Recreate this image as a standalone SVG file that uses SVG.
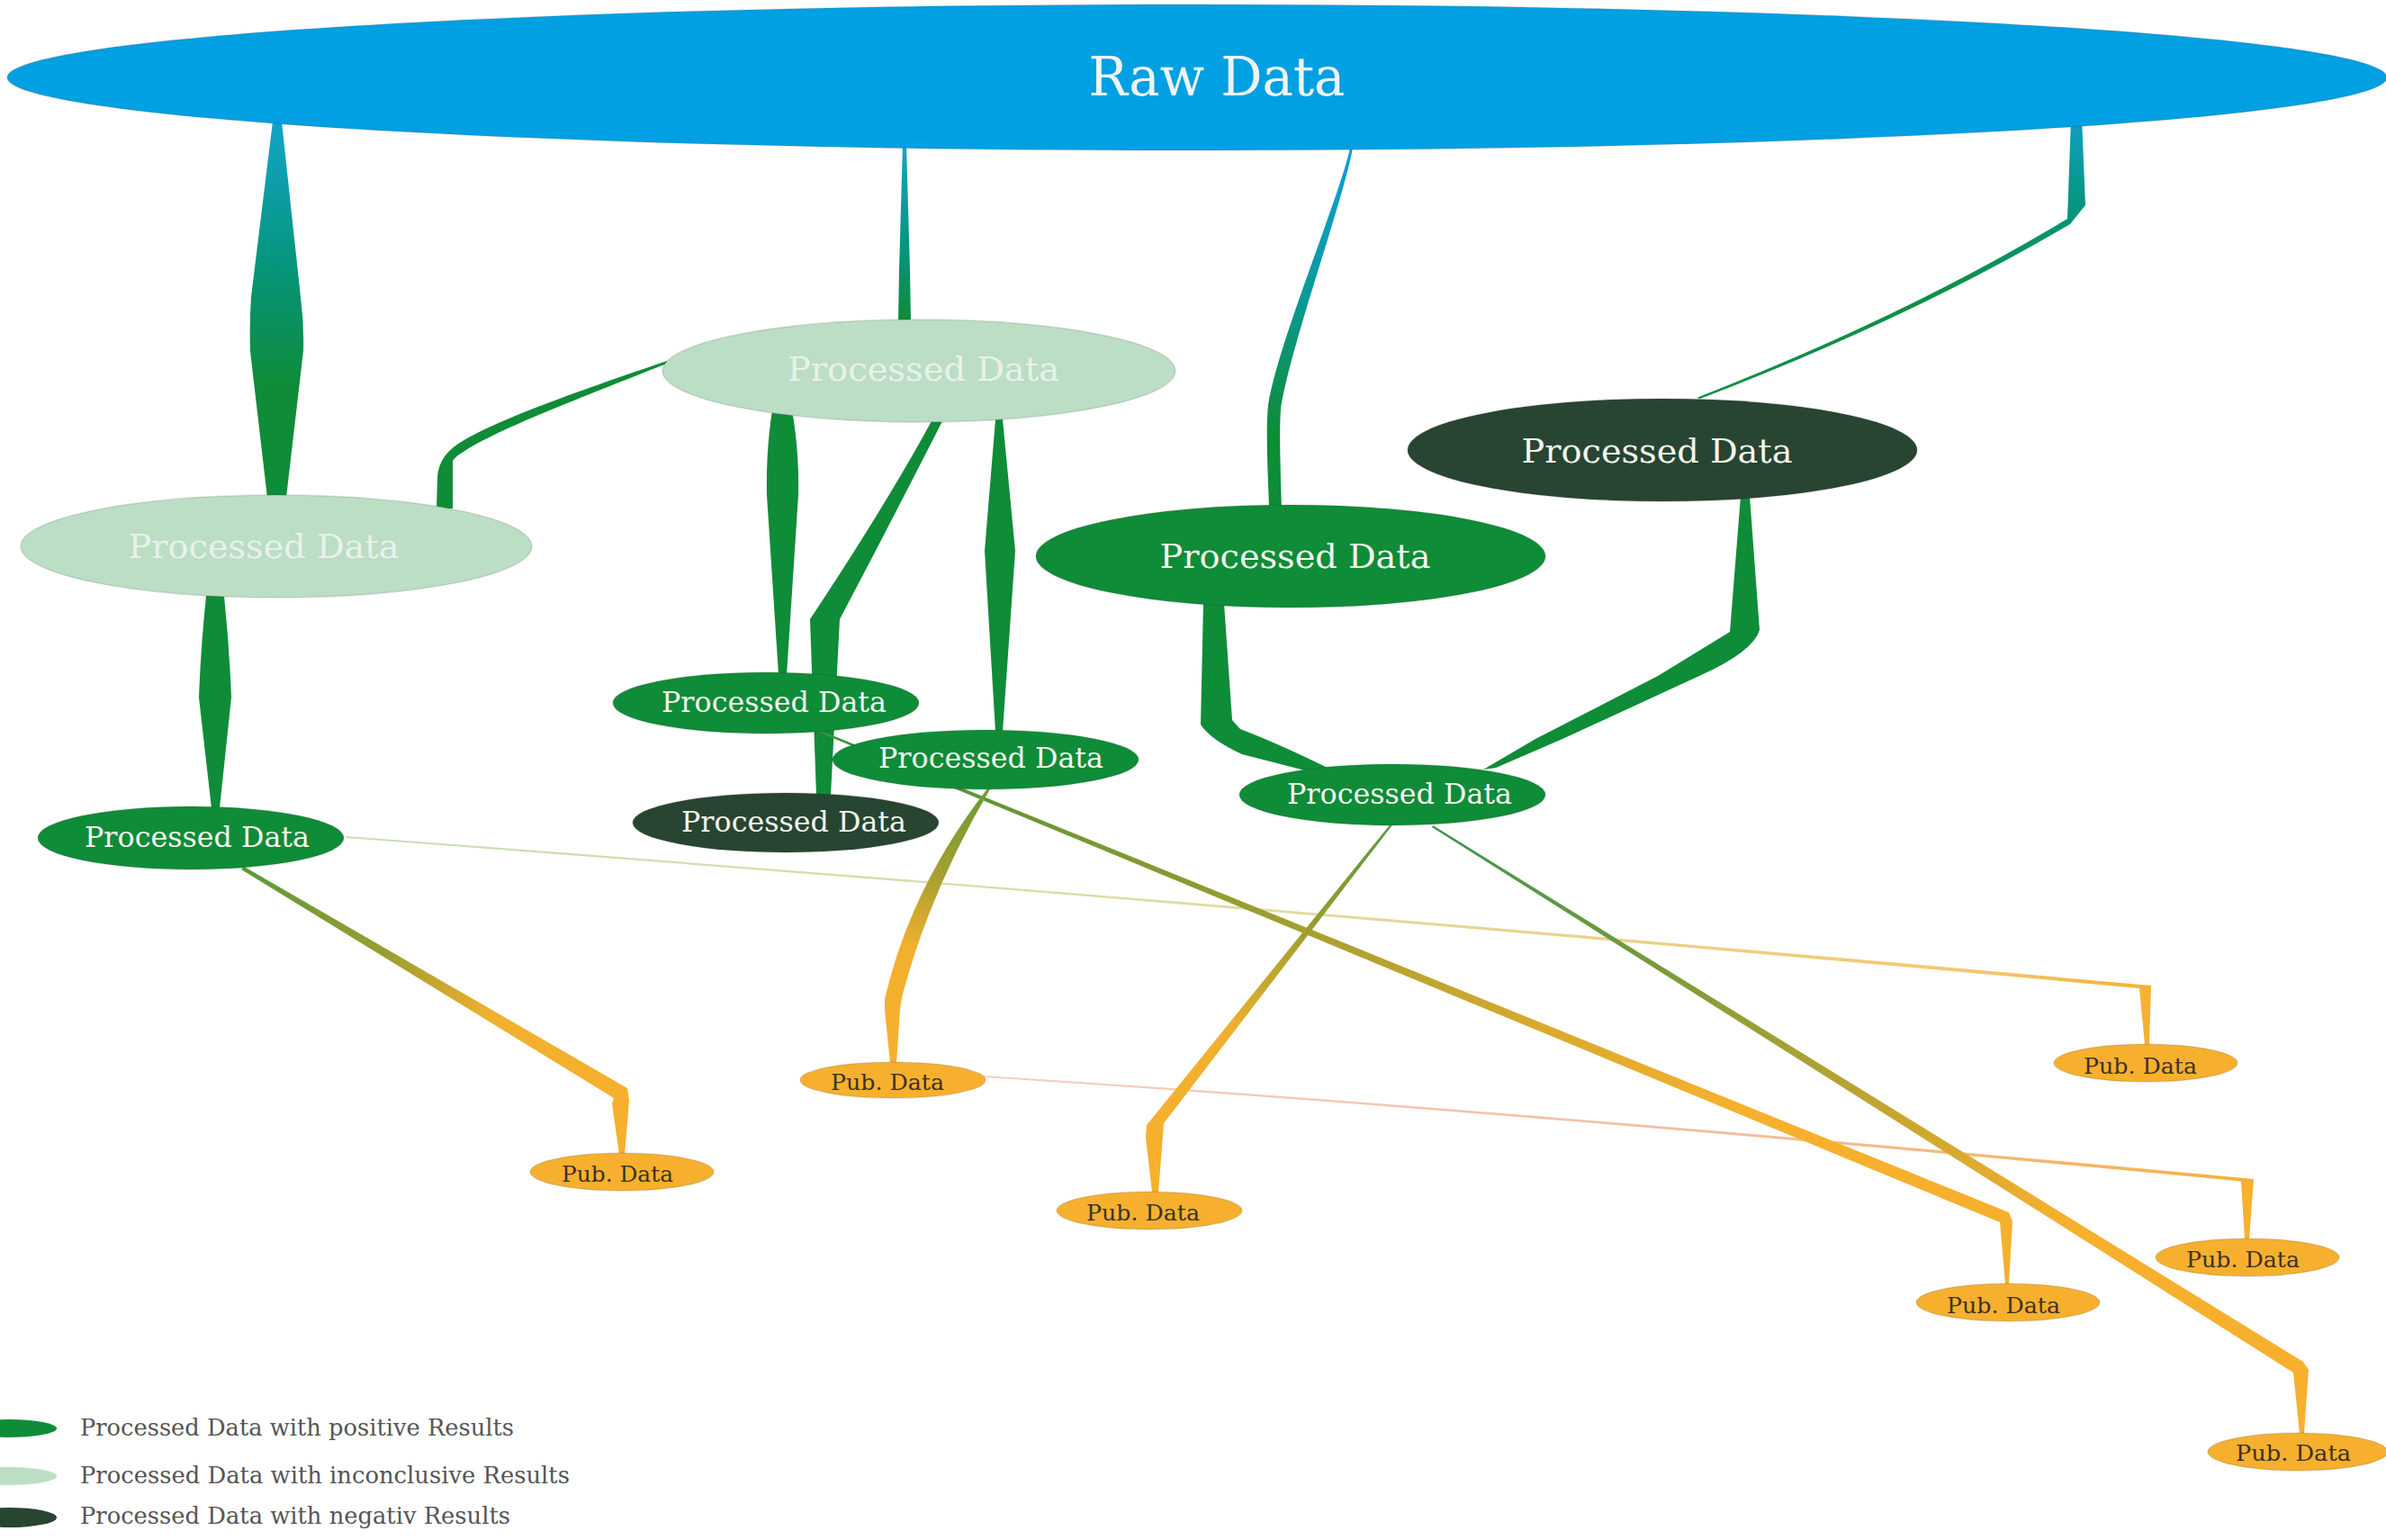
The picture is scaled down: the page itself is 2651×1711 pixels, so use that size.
<svg xmlns="http://www.w3.org/2000/svg" width="2651" height="1711" viewBox="0 0 2651 1711">
<style>
.t{font-family:"DejaVu Serif","Liberation Serif",serif;text-anchor:middle}
.pos{fill:#0f8c37}
.inc{fill:#bbdec5}
.neg{fill:#284531}
.pub{fill:#f7b02e}
.raw{fill:#00a0e2}
.edge{stroke:#333;stroke-opacity:.14;stroke-width:1.5}
.lt{fill:#f3f5f0;font-size:37px}
.st{fill:#f3f5f0;font-size:32px}
.it{fill:#e9f1eb}
.pt{fill:#3b3222;font-size:24px}
.lg{fill:#555;font-size:26px;text-anchor:start}
.g{fill:#0f8c37}
</style>
<defs>
<linearGradient id="gR1" gradientUnits="userSpaceOnUse" x1="0" y1="137" x2="0" y2="430"><stop offset="0" stop-color="#12a4c8"/><stop offset="0.55" stop-color="#05957a"/><stop offset="1" stop-color="#0f8c37"/></linearGradient>
<linearGradient id="gR2" gradientUnits="userSpaceOnUse" x1="0" y1="162" x2="0" y2="358"><stop offset="0" stop-color="#12a4c8"/><stop offset="0.6" stop-color="#05957a"/><stop offset="1" stop-color="#0f8c37"/></linearGradient>
<linearGradient id="gR3" gradientUnits="userSpaceOnUse" x1="0" y1="166" x2="0" y2="480"><stop offset="0" stop-color="#0fa0dc"/><stop offset="0.5" stop-color="#0a9a9a"/><stop offset="1" stop-color="#0f8c37"/></linearGradient>
<linearGradient id="gR4" gradientUnits="userSpaceOnUse" x1="0" y1="133" x2="0" y2="320"><stop offset="0" stop-color="#10a0c0"/><stop offset="0.55" stop-color="#05957a"/><stop offset="1" stop-color="#0f8f48"/></linearGradient>
<linearGradient id="gP1" gradientUnits="userSpaceOnUse" x1="269" y1="965" x2="691" y2="1282"><stop offset="0" stop-color="#5a9a3c"/><stop offset="0.35" stop-color="#9a9e30"/><stop offset="0.6" stop-color="#f0b02e"/><stop offset="1" stop-color="#f7b02e"/></linearGradient>
<linearGradient id="gP2" gradientUnits="userSpaceOnUse" x1="1099" y1="876" x2="992" y2="1180"><stop offset="0" stop-color="#6a9a38"/><stop offset="0.35" stop-color="#a8a030"/><stop offset="0.6" stop-color="#f0b02e"/><stop offset="1" stop-color="#f7b02e"/></linearGradient>
<linearGradient id="gP3" gradientUnits="userSpaceOnUse" x1="1546" y1="918" x2="1283" y2="1323"><stop offset="0" stop-color="#5a9a40"/><stop offset="0.3" stop-color="#9a9e30"/><stop offset="0.6" stop-color="#f0b02e"/><stop offset="1" stop-color="#f7b02e"/></linearGradient>
<linearGradient id="gP6" gradientUnits="userSpaceOnUse" x1="900" y1="808" x2="2230" y2="1426"><stop offset="0" stop-color="#3f8f3c"/><stop offset="0.3" stop-color="#8a9a32"/><stop offset="0.6" stop-color="#d8aa2e"/><stop offset="0.75" stop-color="#f6b02e"/><stop offset="1" stop-color="#f7b02e"/></linearGradient>
<linearGradient id="gP7" gradientUnits="userSpaceOnUse" x1="1591" y1="918" x2="2557" y2="1592"><stop offset="0" stop-color="#3d9550"/><stop offset="0.25" stop-color="#7a9a3a"/><stop offset="0.55" stop-color="#d0a830"/><stop offset="0.7" stop-color="#f6b02e"/><stop offset="1" stop-color="#f7b02e"/></linearGradient>
<linearGradient id="gP4" gradientUnits="userSpaceOnUse" x1="384" y1="0" x2="2392" y2="0"><stop offset="0" stop-color="#c8e0b8"/><stop offset="0.5" stop-color="#e0dca0"/><stop offset="0.9" stop-color="#f4c872"/><stop offset="1" stop-color="#f7b02e"/></linearGradient>
<linearGradient id="gP5" gradientUnits="userSpaceOnUse" x1="1093" y1="0" x2="2506" y2="0"><stop offset="0" stop-color="#f4d0c4"/><stop offset="0.6" stop-color="#f4bc9c"/><stop offset="0.92" stop-color="#f5b458"/><stop offset="1" stop-color="#f7b02e"/></linearGradient>
</defs>
<rect width="2651" height="1711" fill="#ffffff"/>

<g id="connectors">
<path id="raw-to-inc1" fill="url(#gR1)" d="M303,135 L279,330 Q277,360 278,390 L297,553 L318,553 L337,390 Q338,360 334,330 L313,135 Z"/>
<path id="raw-to-inc2" fill="url(#gR2)" d="M1003,160 L999,300 L998,358 L1012,358 L1011,300 L1007,160 Z"/>
<path id="raw-to-pos1" fill="url(#gR3)" d="M1500,164 C1490,215 1420,380 1409,450 C1406,480 1409,530 1410,564 L1424,564 C1423,530 1421,480 1423,455 C1432,390 1495,215 1503,164 Z"/>
<path id="raw-to-neg1" fill="url(#gR4)" d="M2301,130 L2297,243 Q2120,350 1885,442 L1889,443 Q2124,353 2300,249 L2317,228 L2313,130 Z"/>
<path id="inc2-to-inc1" class="g" d="M741,401 C650,432 540,470 505,496 Q487,510 486,530 L485,565 L503,565 L503,512 Q507,506 515,502 C550,478 650,440 742,403.5 Z"/>
<path id="inc2-to-pos2" class="g" d="M858,456 Q851,500 852,550 L865,750 L874,750 L887,550 Q888,500 880,456 Z"/>
<path id="inc2-to-neg2" class="g" d="M1036,466 Q985,560 900,688 L907,884 L923,884 L933,688 Q990,580 1048,466 Z"/>
<path id="inc2-to-pos3" class="g" d="M1106,466 L1094,612 L1106,813 L1114,813 L1128,612 L1114,466 Z"/>
<path id="inc1-to-pos4" class="g" d="M229,662 Q223,720 221,775 L235,898 L244,898 L257,775 Q255,720 249,662 Z"/>
<path id="pos1-to-pos5" class="g" d="M1337,670 L1334,805 Q1345,822 1380,838 L1450,856 L1475,853 Q1420,826 1378,810 L1369,800 L1360,670 Z"/>
<path id="neg1-to-pos5" class="g" d="M1934,551 L1922,702 L1842,751 L1706,821 L1648,855 L1662,853 L1736,821 L1888,751 Q1948,724 1955,700 L1944,551 Z"/>
<path id="pos4-to-pub4" fill="url(#gP4)" d="M384,929 Q1384,1004 2390,1095 L2388,1161 L2383,1161 L2377,1098 Q1384,1006.5 384,931 Z"/>
<path id="pub2-to-pub5" fill="url(#gP5)" d="M1093,1195 Q1673,1232 2504,1310 L2499,1377 L2494,1377 L2490,1312.5 Q1673,1234.5 1093,1197 Z"/>
<path id="pos2-to-pub6" fill="url(#gP6)" d="M900,807 L2232,1347 L2236,1357 L2232,1427 L2228,1427 L2222,1358 L900,809.5 Z"/>
<path id="pos5-to-pub7" fill="url(#gP7)" d="M1592,917 L2559,1513 L2565,1522 L2560,1593 L2555,1593 L2548,1525 L1591,919 Z"/>
<path id="pos5-to-pub3" fill="url(#gP3)" d="M1547.5,916 L1293,1248 L1292,1262 L1287,1325 L1280,1325 L1273,1264 L1274,1250 L1544.5,916 Z"/>
<path id="pos3-to-pub2" fill="url(#gP2)" d="M1101,875 Q1033,990 1002,1108 L1000,1122 L996,1181 L989,1181 L983,1122 L983,1110 Q1012,985 1098,875 Z"/>
<path id="pos4-to-pub1" fill="url(#gP1)" d="M270.5,962.5 L697,1209 L699,1223 L694,1283 L688,1283 L680,1226 L682,1220 L268,966 Z"/>
</g>

<g id="raw">
<ellipse class="raw edge" cx="1330" cy="86" rx="1322" ry="81"/>
<text class="t" x="1352" y="106" font-size="59" fill="#eef4f8" textLength="285" lengthAdjust="spacingAndGlyphs">Raw Data</text>
</g>
<g id="inc1">
<ellipse class="inc edge" cx="307" cy="607" rx="284" ry="57"/>
<text class="t it" x="293" y="620" font-size="37" textLength="301" lengthAdjust="spacingAndGlyphs">Processed Data</text>
</g>
<g id="inc2">
<ellipse class="inc edge" cx="1021" cy="412" rx="285" ry="57"/>
<text class="t it" x="1026" y="423" font-size="37" textLength="302" lengthAdjust="spacingAndGlyphs">Processed Data</text>
</g>
<g id="pos1">
<ellipse class="pos edge" cx="1434" cy="618" rx="283" ry="57"/>
<text class="t lt" x="1439" y="631" textLength="301" lengthAdjust="spacingAndGlyphs">Processed Data</text>
</g>
<g id="neg1">
<ellipse class="neg edge" cx="1847" cy="500" rx="283" ry="57"/>
<text class="t lt" x="1841" y="514" textLength="301" lengthAdjust="spacingAndGlyphs">Processed Data</text>
</g>
<g id="pos4">
<ellipse class="pos edge" cx="212" cy="931" rx="170" ry="35"/>
<text class="t st" x="219" y="941" textLength="250" lengthAdjust="spacingAndGlyphs">Processed Data</text>
</g>
<g id="pos2">
<ellipse class="pos edge" cx="851" cy="781" rx="170" ry="34"/>
<text class="t st" x="860" y="791" textLength="250" lengthAdjust="spacingAndGlyphs">Processed Data</text>
</g>
<g id="neg2">
<ellipse class="neg edge" cx="873" cy="914" rx="170" ry="33"/>
<text class="t st" x="882" y="924" textLength="250" lengthAdjust="spacingAndGlyphs">Processed Data</text>
</g>
<g id="pos3">
<ellipse class="pos edge" cx="1095" cy="844" rx="170" ry="33"/>
<text class="t st" x="1101" y="853" textLength="250" lengthAdjust="spacingAndGlyphs">Processed Data</text>
</g>
<g id="pos5">
<ellipse class="pos edge" cx="1547" cy="883" rx="170" ry="34"/>
<text class="t st" x="1555" y="893" textLength="250" lengthAdjust="spacingAndGlyphs">Processed Data</text>
</g>

<g id="pub1"><ellipse class="pub edge" cx="691" cy="1302" rx="102" ry="21"/><text class="t pt" x="686" y="1313" textLength="124" lengthAdjust="spacingAndGlyphs">Pub. Data</text></g>
<g id="pub2"><ellipse class="pub edge" cx="992" cy="1200" rx="103" ry="20"/><text class="t pt" x="986" y="1211" textLength="126" lengthAdjust="spacingAndGlyphs">Pub. Data</text></g>
<g id="pub3"><ellipse class="pub edge" cx="1277" cy="1345" rx="103" ry="21"/><text class="t pt" x="1270" y="1356" textLength="126" lengthAdjust="spacingAndGlyphs">Pub. Data</text></g>
<g id="pub4"><ellipse class="pub edge" cx="2384" cy="1181" rx="102" ry="21"/><text class="t pt" x="2378" y="1193" textLength="126" lengthAdjust="spacingAndGlyphs">Pub. Data</text></g>
<g id="pub5"><ellipse class="pub edge" cx="2497" cy="1397" rx="102" ry="21"/><text class="t pt" x="2492" y="1408" textLength="126" lengthAdjust="spacingAndGlyphs">Pub. Data</text></g>
<g id="pub6"><ellipse class="pub edge" cx="2231" cy="1447" rx="102" ry="21"/><text class="t pt" x="2226" y="1459" textLength="126" lengthAdjust="spacingAndGlyphs">Pub. Data</text></g>
<g id="pub7"><ellipse class="pub edge" cx="2553" cy="1613" rx="100" ry="21"/><text class="t pt" x="2548" y="1623" textLength="128" lengthAdjust="spacingAndGlyphs">Pub. Data</text></g>

<g id="legend">
<ellipse class="pos" cx="10" cy="1587" rx="53" ry="10"/>
<text class="t lg" x="89" y="1595" textLength="482" lengthAdjust="spacingAndGlyphs">Processed Data with positive Results</text>
<ellipse class="inc" cx="10" cy="1640" rx="53" ry="10"/>
<text class="t lg" x="89" y="1648" textLength="544" lengthAdjust="spacingAndGlyphs">Processed Data with inconclusive Results</text>
<ellipse class="neg" cx="10" cy="1686" rx="53" ry="11"/>
<text class="t lg" x="89" y="1693" textLength="478" lengthAdjust="spacingAndGlyphs">Processed Data with negativ Results</text>
</g>
</svg>
